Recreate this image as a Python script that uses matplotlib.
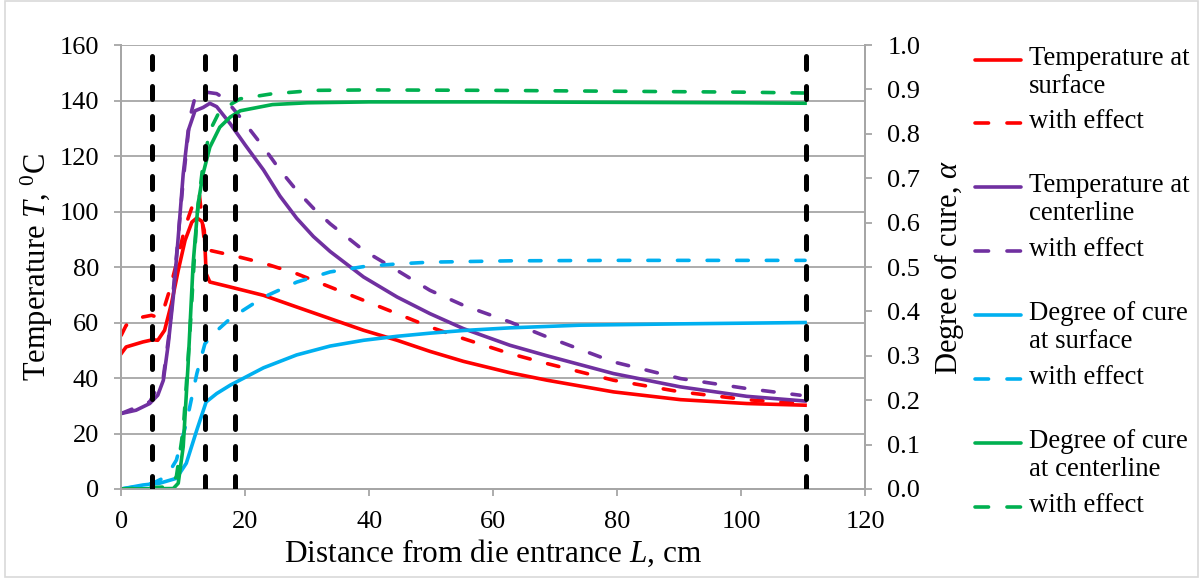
import matplotlib
matplotlib.use("Agg")
import matplotlib.pyplot as plt
from matplotlib.lines import Line2D
from matplotlib.patches import Rectangle

plt.rcParams['font.family'] = ['Liberation Serif', 'DejaVu Serif']
plt.rcParams['mathtext.fontset'] = 'custom'
plt.rcParams['mathtext.rm'] = 'Liberation Serif'
plt.rcParams['mathtext.it'] = 'Liberation Serif:italic'

# temperature at surface (plain and with effect)
x_ts = [0, 0.8, 3.5, 5.1, 5.9, 7.0, 8.1, 9.2, 10.3, 11.4, 12.2, 13.0, 13.4, 13.7, 14.3,
        17.6, 22.95, 28.3, 33.7, 39.1, 44.5, 49.8, 55.2, 62.7, 68.7, 79.4, 90.2, 100.9, 110.3]
t_ts = [48.8, 51.2, 53.0, 53.8, 53.6, 57.2, 66.8, 78.8, 89.6, 96.2, 97.7, 96.5, 93.2, 77.6, 74.6,
        72.8, 69.8, 65.6, 61.4, 57.2, 53.6, 49.6, 46.0, 41.9, 39.2, 35.0, 32.2, 30.8, 30.2]
x_ts_e = [0, 0.8, 3.5, 4.9, 5.7, 6.8, 7.8, 8.9, 10.3, 11.6, 12.6, 13.0, 13.5, 14.3,
          18.7, 22.95, 28.3, 33.7, 39.1, 44.5, 49.8, 55.2, 62.7, 68.7, 79.4, 90.2, 100.9, 109.5]
t_ts_e = [55.4, 59.0, 62.0, 62.6, 62.0, 64.4, 71.6, 81.2, 94.4, 102.8, 106.4, 98.0, 87.2, 86.0,
          83.8, 81.4, 77.6, 72.8, 68.0, 63.2, 58.4, 54.2, 48.8, 45.2, 39.2, 35.0, 32.2, 30.8]

# temperature at centerline
x_tc = [0, 2.4, 4.6, 5.9, 6.8, 7.6, 8.4, 9.2, 10.0, 10.8, 11.9, 13.2, 14.3, 15.4, 17.6,
        20.0, 22.95, 25.6, 28.3, 31.0, 33.7, 39.1, 44.5, 49.8, 55.2, 62.7, 68.7, 79.4, 90.2,
        100.9, 110.3]
t_tc = [27.2, 28.4, 30.8, 33.8, 39.2, 52.4, 69.2, 90.8, 113.5, 129.1, 136.3, 137.5, 139.0, 137.8, 131.6,
        124.0, 115.0, 105.6, 97.6, 91.0, 85.6, 76.4, 69.2, 63.2, 57.8, 51.8, 48.0, 41.6, 36.8,
        33.4, 31.7]
x_tc_e = [0, 4.6, 6.8, 7.8, 8.9, 10.0, 11.1, 11.9, 12.7, 13.8, 15.4, 16.8, 19.2, 22.95, 25.6,
          28.3, 31.0, 33.7, 39.1, 44.5, 49.8, 55.2, 62.7, 68.7, 79.4, 90.2, 100.9, 109.5]
t_tc_e = [27.2, 31.4, 40.4, 57.2, 83.6, 111.2, 134.0, 141.1, 142.6, 143.0, 142.5, 140.5, 134.0, 123.2, 115.0,
          107.6, 101.2, 95.6, 86.0, 78.8, 71.6, 66.2, 60.2, 54.8, 45.8, 39.8, 36.2, 33.8]

# degree of cure at surface
x_as = [0, 3.5, 6.2, 8.9, 10.5, 12.2, 13.7, 15.4, 17.6, 22.95, 28.3, 33.7, 39.1, 44.5, 49.8,
        55.2, 62.7, 74.0, 90.2, 110.3]
a_as = [0, 0.009, 0.013, 0.024, 0.058, 0.133, 0.196, 0.215, 0.234, 0.273, 0.302, 0.322, 0.335, 0.344, 0.351,
        0.357, 0.363, 0.369, 0.372, 0.375]
x_as_e = [0, 2.4, 5.1, 7.3, 8.9, 10.5, 12.2, 13.5, 14.9, 17.6, 22.95, 28.3, 33.7, 39.1, 44.5,
          49.8, 62.7, 80, 100, 110.3]
a_as_e = [0, 0.005, 0.013, 0.028, 0.065, 0.148, 0.26, 0.327, 0.35, 0.384, 0.432, 0.466, 0.489, 0.501, 0.507,
          0.511, 0.514, 0.515, 0.515, 0.515]

# degree of cure at centerline
x_ac = [0, 8.4, 9.2, 10.0, 10.8, 11.6, 12.4, 13.2, 14.3, 15.9, 17.6, 19.2, 24.4, 30, 40,
        60, 80, 100, 110.3]
a_ac = [0, 0.001, 0.013, 0.095, 0.283, 0.507, 0.642, 0.71, 0.77, 0.815, 0.838, 0.852, 0.866, 0.870, 0.872,
        0.872, 0.871, 0.870, 0.869]
x_ac_e = [0, 7.8, 8.9, 10.0, 11.1, 12.2, 13.2, 14.3, 15.9, 19.2, 24.2, 31.2, 40, 60, 80,
          100, 110.3]
a_ac_e = [0, 0.005, 0.028, 0.133, 0.357, 0.612, 0.732, 0.807, 0.852, 0.879, 0.89, 0.898, 0.899, 0.898, 0.896,
          0.894, 0.892]

zones = [5.0, 13.5, 18.4, 110.4]

red = '#FF0000'
purple = '#7030A0'
cyan = '#00B0F0'
green = '#00B050'
gridc = '#A6A6A6'

fig = plt.figure(figsize=(12, 5.78), dpi=100)
ax = fig.add_axes([0.101, 0.154, 0.620, 0.768])
ax2 = ax.twinx()

lw = 2.6
dash = (0, (3.2, 5.0))
series = [
    (ax, x_ts, t_ts, red, '-'), (ax, x_ts_e, t_ts_e, red, dash),
    (ax, x_tc, t_tc, purple, '-'), (ax, x_tc_e, t_tc_e, purple, dash),
    (ax2, x_as, a_as, cyan, '-'), (ax2, x_as_e, a_as_e, cyan, dash),
    (ax2, x_ac, a_ac, green, '-'), (ax2, x_ac_e, a_ac_e, green, dash),
]
for a, xs, ys, col, ls in series:
    a.plot(xs, ys, color=col, lw=lw, ls=ls, dash_capstyle='round', solid_joinstyle='round')

for z in zones:
    ax2.axvline(z, color='black', lw=3.6, ls=(0, (2.6, 3.4)), dash_capstyle='round', zorder=5)

ax.set_xlim(0, 120)
ax.set_ylim(0, 160)
ax2.set_ylim(0, 1.0)
ax.set_xticks(range(0, 121, 20))
ax.set_yticks(range(0, 161, 20))
ax2.set_yticks([i / 10 for i in range(11)])
ax2.set_yticklabels(['%.1f' % (i / 10) for i in range(11)])
ax.yaxis.grid(True, color=gridc, lw=1.3)
ax.set_axisbelow(True)

for a in (ax, ax2):
    a.spines['top'].set_visible(False)
    for s in ('left', 'right', 'bottom'):
        a.spines[s].set_color(gridc)
        a.spines[s].set_linewidth(1.3)
    a.tick_params(colors=gridc, labelcolor='black', labelsize=19, width=1.3, length=5)
ax.tick_params(axis='y', pad=11)
ax2.tick_params(axis='y', pad=11)
ax.tick_params(axis='x', pad=11)

ax.set_xlabel('Distance from die entrance $\\mathit{L}$, cm', fontsize=22.5, labelpad=3)
ax.set_ylabel('Temperature $\\mathit{T}$, $^{0}$C', fontsize=22, labelpad=3)
ax2.set_ylabel('Degree of cure, $\\mathit{\\alpha}$', fontsize=22, labelpad=8)

# legend drawn in figure pixels
W, H = 1200.0, 578.0
entries = [
    (red, '-', 'Temperature at\nsurface', 60),
    (red, '--', 'with effect', 123),
    (purple, '-', 'Temperature at\ncenterline', 187),
    (purple, '--', 'with effect', 251),
    (cyan, '-', 'Degree of cure\nat surface', 315),
    (cyan, '--', 'with effect', 379),
    (green, '-', 'Degree of cure\nat centerline', 443),
    (green, '--', 'with effect', 507),
]
for col, style, label, yp in entries:
    ls = '-' if style == '-' else (0, (3.75, 5.1))
    fig.add_artist(Line2D([975 / W, 1021 / W], [1 - yp / H, 1 - yp / H],
                          color=col, lw=2.6, ls=ls, dash_capstyle='round',
                          solid_capstyle='round', transform=fig.transFigure))
    fig.text(1029 / W, 1 - (yp - 14) / H, label, fontsize=19.3, va='top', ha='left',
             linespacing=1.18)

fig.add_artist(Rectangle((0.004, 0.001), 0.994, 0.997, transform=fig.transFigure,
                         fill=False, edgecolor='#D9D9D9', lw=1.2))

fig.savefig('out.png', dpi=100)
